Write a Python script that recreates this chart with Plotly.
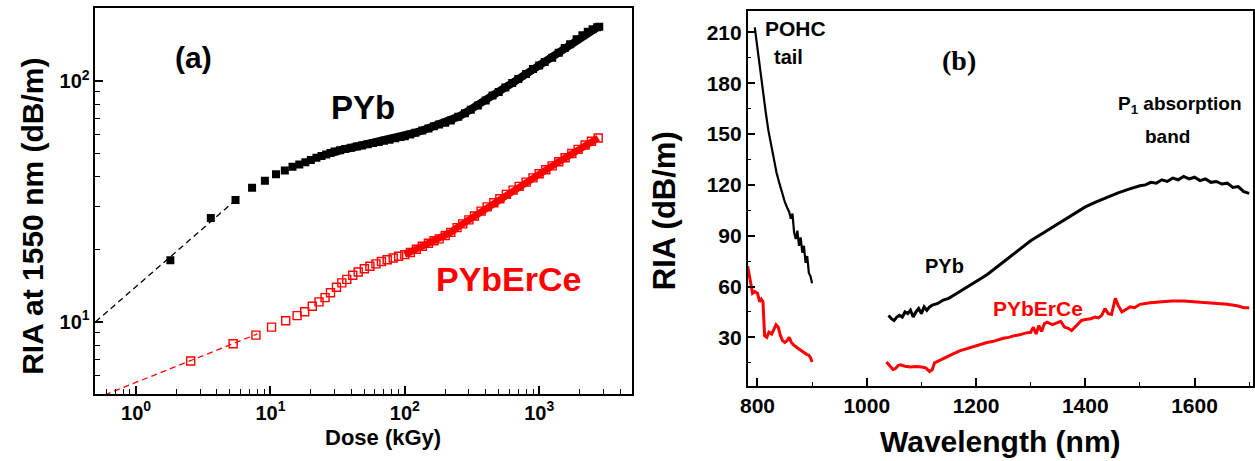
import plotly.graph_objects as go
import math

# ---------------- Panel (a) data: RIA at 1550 nm vs dose ----------------
pyb_dose = [1.8, 3.6, 5.5, 7.3, 9.1, 11, 12.8, 14.6, 16.4, 18.2, 20, 22, 24, 26, 28, 30, 33, 36, 40, 44,
            48, 53, 58, 64, 70, 77, 85, 93, 100, 110, 120, 135, 150, 165, 180, 200, 220, 250, 280, 310,
            350, 400, 450, 500, 560, 630, 700, 800, 900, 1000, 1100, 1250, 1400, 1550, 1700, 1900, 2100,
            2300, 2500, 2700, 2800]
pyb_ria = [18, 27, 32, 36, 38.5, 41, 42.5, 44, 45, 46, 47, 48, 48.8, 49.5, 50.2, 51, 51.6, 52.2, 52.8, 53.4,
           54, 54.6, 55.2, 55.8, 56.4, 57, 57.8, 58.5, 59, 60, 61, 62.3, 63.5, 64.8, 66, 67, 68.5, 71, 73.5, 76,
           79, 83, 87, 90, 94, 98, 102, 107, 112, 116, 120, 125, 131, 137, 142, 149, 155,
           160, 164, 167, 168]

erce_dose = [2.55, 5.28, 7.8, 10.2, 13, 15.8, 18, 20.5, 23, 25.5, 28, 31, 34, 37, 41, 45, 50, 55, 61, 67,
             74, 82, 90, 100, 110, 122, 135, 150, 165, 180, 200, 220, 245, 270, 300, 330, 370, 410, 460,
             510, 570, 640, 710, 800, 900, 1000, 1120, 1250, 1400, 1560, 1750, 1950, 2200, 2450, 2750]
erce_ria = [6.87, 8.1, 8.8, 9.5, 10.1, 10.6, 11.0, 11.6, 12.1, 12.6, 13.2, 13.9, 14.5, 15.0, 15.6, 16.1, 16.6,
            17.0, 17.4, 17.8, 18.1, 18.4, 18.7, 19.0, 19.4, 20.0, 20.6, 21.2, 21.7, 22.1, 22.8, 23.5, 24.6,
            25.5, 26.5, 27.5, 28.8, 30.0, 31.2, 32.4, 33.8, 35.2, 36.5, 38.0, 39.6, 41.2, 42.8, 44.4, 46.2,
            48.0, 50.0, 52.0, 54.2, 56.2, 58.0]

# dashed fit lines (low-dose extrapolation)
fit_pyb_dose = [0.5, 5.5]
fit_pyb_ria = [10, 32]
fit_erce_dose = [0.5, 8]
fit_erce_ria = [4.8, 8.9]

# ---------------- Panel (b) data: RIA spectra ----------------
pyb_wl_a = [795, 797, 799, 802, 806, 810, 815, 820, 825, 830, 835, 840, 845, 850, 855, 858, 861, 864, 867, 870,
            873, 876, 879, 882, 885, 888, 891, 894, 897, 900]
pyb_spec_a = [213, 208, 200, 193, 184, 174, 163, 152, 143, 134, 127, 121, 115, 110, 106, 104, 100, 103, 92, 88,
              93, 84, 89, 80, 84, 74, 78, 68, 66, 62]
pyb_wl_b = [1040, 1045, 1050, 1055, 1060, 1065, 1070, 1075, 1080, 1085, 1090, 1095, 1100, 1105, 1110, 1115, 1120,
            1130, 1140, 1150, 1160, 1175, 1190, 1200, 1220, 1240, 1260, 1280, 1300, 1320, 1340, 1360, 1380, 1400,
            1420, 1440, 1460, 1480, 1500, 1510, 1520, 1530, 1540, 1550, 1560, 1570, 1580, 1590, 1600, 1610, 1620,
            1630, 1640, 1650, 1660, 1670, 1680, 1690, 1700]
pyb_spec_b = [43, 41, 40, 42, 43, 42, 45, 44, 46, 42, 45, 47, 44, 48, 46, 48, 49,
              50, 52, 53, 55, 58, 61, 63, 67, 72, 77, 82, 87, 91, 95, 99.5, 103.5, 107,
              110, 112.8, 115.3, 117.5, 119.5, 120, 121.5, 121, 123, 122, 124, 123, 125, 123.5, 124.5, 122.5, 123.5,
              121.5, 122, 120.5, 121, 118.5, 119, 116, 115]

erce_wl_a = [782, 785, 788, 791, 795, 800, 804, 807, 810, 813, 817, 821, 826, 830, 834, 838, 842, 846, 850, 854,
             858, 862, 866, 872, 878, 884, 890, 894, 897, 900]
erce_spec_a = [72, 66, 60, 56, 57, 56, 51, 52.5, 51, 31, 30, 33, 32, 35, 37.5, 36, 31, 28, 27, 28,
               30, 27, 25.5, 24, 22.5, 21, 20, 19.5, 18, 15.5]
erce_wl_b = [1036, 1042, 1048, 1052, 1058, 1062, 1070, 1080, 1090, 1100, 1108, 1115, 1120, 1124, 1130, 1140, 1150,
             1160, 1170, 1180, 1190, 1200, 1210, 1220, 1230, 1240, 1250, 1260, 1270, 1280, 1290, 1300, 1305, 1310,
             1315, 1320, 1325, 1330, 1340, 1348, 1355, 1362, 1368, 1375, 1385, 1393, 1400, 1410, 1418, 1424, 1430,
             1436, 1442, 1448, 1455, 1460, 1467, 1475, 1482, 1490, 1500, 1510, 1520, 1540, 1560, 1580, 1600, 1620,
             1640, 1660, 1680, 1690, 1700]
erce_spec_b = [15.5, 13, 11, 11.5, 13.5, 13.8, 13, 12.5, 12.8, 12.5, 12, 9.8, 11, 15, 16, 17.5, 19,
               20.5, 22, 23, 24, 25, 26, 27, 27.5, 28.5, 29.5, 30, 31, 31.5, 32.5, 33, 36, 32,
               37, 33.5, 38, 39, 37.5, 38.5, 39.5, 36, 35.5, 34, 37, 40, 40.5, 41, 42, 41.5, 43,
               47, 44, 43.5, 53, 49, 45, 46.5, 48, 47.5, 49.5, 50, 50.5, 51, 51.5, 51.5, 51, 50.5,
               50, 49.5, 48.5, 47.5, 47.5]

left_major = [1, 10, 100, 1000]
left_major_text = ["10<sup>0</sup>", "10<sup>1</sup>", "10<sup>2</sup>", "10<sup>3</sup>"]
y_major = [10, 100]
y_major_text = ["10<sup>1</sup>", "10<sup>2</sup>"]

RED = "#ff0000"
FONT = "Liberation Sans"

# where the measured points become a continuous band
PYB_BAND_START = 14
ERCE_BAND_START = 23

fig = go.Figure()

# panel (a)
fig.add_trace(go.Scatter(x=fit_pyb_dose, y=fit_pyb_ria, mode="lines",
                         line=dict(color="black", width=1.3, dash="6px,4px"), xaxis="x", yaxis="y",
                         showlegend=False))
fig.add_trace(go.Scatter(x=fit_erce_dose, y=fit_erce_ria, mode="lines",
                         line=dict(color=RED, width=1.3, dash="6px,4px"), xaxis="x", yaxis="y",
                         showlegend=False))
fig.add_trace(go.Scatter(x=pyb_dose[PYB_BAND_START:], y=pyb_ria[PYB_BAND_START:], mode="lines",
                         line=dict(color="black", width=8), xaxis="x", yaxis="y", showlegend=False))
fig.add_trace(go.Scatter(x=erce_dose[ERCE_BAND_START:], y=erce_ria[ERCE_BAND_START:], mode="lines",
                         line=dict(color=RED, width=7), xaxis="x", yaxis="y", showlegend=False))
fig.add_trace(go.Scatter(x=pyb_dose, y=pyb_ria, mode="markers",
                         marker=dict(symbol="square", size=8, color="black"),
                         xaxis="x", yaxis="y", showlegend=False))
fig.add_trace(go.Scatter(x=erce_dose, y=erce_ria, mode="markers",
                         marker=dict(symbol="square-open", size=8, color=RED, line=dict(width=1.4, color=RED)),
                         xaxis="x", yaxis="y", showlegend=False))

# panel (b)
fig.add_trace(go.Scatter(x=pyb_wl_a, y=pyb_spec_a, mode="lines", line=dict(color="black", width=2.2),
                         xaxis="x2", yaxis="y2", showlegend=False))
fig.add_trace(go.Scatter(x=pyb_wl_b, y=pyb_spec_b, mode="lines", line=dict(color="black", width=3),
                         xaxis="x2", yaxis="y2", showlegend=False))
fig.add_trace(go.Scatter(x=erce_wl_a, y=erce_spec_a, mode="lines", line=dict(color=RED, width=3),
                         xaxis="x2", yaxis="y2", showlegend=False))
fig.add_trace(go.Scatter(x=erce_wl_b, y=erce_spec_b, mode="lines", line=dict(color=RED, width=3),
                         xaxis="x2", yaxis="y2", showlegend=False))

W, H = 1255, 461
def px_x(p):
    return p / W
def px_y(p):
    return (H - p) / H

axis_common = dict(showline=True, linecolor="black", linewidth=1.5, mirror=True, showgrid=False,
                   zeroline=False, ticks="inside", tickcolor="black", tickwidth=1.5, ticklen=8)

minor_dose = [v * m for m in [0.1, 1, 10, 100, 1000] for v in range(2, 10)]
minor_ria = [v * m for m in [1, 10, 100] for v in range(2, 10)]

fig.update_layout(
    width=W, height=H, margin=dict(l=0, r=0, t=0, b=0),
    paper_bgcolor="white", plot_bgcolor="white",
    xaxis=dict(domain=[px_x(88), px_x(629)], type="log", range=[math.log10(0.498), math.log10(4950)],
               tickvals=left_major, ticktext=left_major_text,
               tickfont=dict(family=FONT, size=20, color="black", weight="bold"),
               minor=dict(tickvals=minor_dose, ticks="inside", ticklen=5, tickcolor="black", tickwidth=1.3),
               anchor="y", **axis_common),
    yaxis=dict(domain=[px_y(394), px_y(8)], type="log", range=[0.700, 2.303],
               tickvals=y_major, ticktext=y_major_text,
               tickfont=dict(family=FONT, size=20, color="black", weight="bold"),
               minor=dict(tickvals=minor_ria, ticks="inside", ticklen=5, tickcolor="black", tickwidth=1.3),
               anchor="x", **axis_common),
    xaxis2=dict(domain=[px_x(745), px_x(1254)], range=[782, 1707], tickvals=[800, 1000, 1200, 1400, 1600],
                tickfont=dict(family=FONT, size=21, color="black", weight="bold"),
                minor=dict(dtick=100, ticks="inside", ticklen=4, tickcolor="black", tickwidth=1.3),
                anchor="y2", **axis_common),
    yaxis2=dict(domain=[px_y(386), px_y(11)], range=[1.3, 222.6], tickvals=[30, 60, 90, 120, 150, 180, 210],
                tickfont=dict(family=FONT, size=21, color="black", weight="bold"),
                minor=dict(dtick=15, ticks="inside", ticklen=4, tickcolor="black", tickwidth=1.3),
                anchor="x2", **axis_common),
)

def ann(text, x, y, size, color="black", family=FONT, angle=0):
    fig.add_annotation(text=text, x=px_x(x), y=px_y(y), xref="paper", yref="paper",
                       showarrow=False, xanchor="center", yanchor="middle", textangle=angle,
                       font=dict(family=family, size=size, color=color, weight="bold"))

# panel (a) texts
ann("RIA at 1550 nm (dB/m)", 24, 216, 30, angle=-90)
ann("Dose (kGy)", 378, 437, 22)
ann("(a)", 187, 58, 30)
ann("PYb", 358, 107, 33)
ann("PYbErCe", 505, 279, 34, color=RED)

# panel (b) texts
ann("RIA (dB/m)", 661, 211, 31, angle=-90)
ann("Wavelength (nm)", 1000, 441, 30)
ann("POHC", 793, 29, 21)
ann("tail", 786, 57, 20)
ann("(b)", 958, 61, 28, family="Liberation Serif")
ann("P<sub>1</sub> absorption", 1180, 105, 19)
ann("band", 1168, 136, 19)
ann("PYb", 943, 266, 20)
ann("PYbErCe", 1037, 308, 21, color=RED)

fig.write_html("out.html", config={"displayModeBar": False},
               post_script="document.body.style.margin='0';document.body.style.padding='0';"
                           "document.body.style.overflow='hidden';")
